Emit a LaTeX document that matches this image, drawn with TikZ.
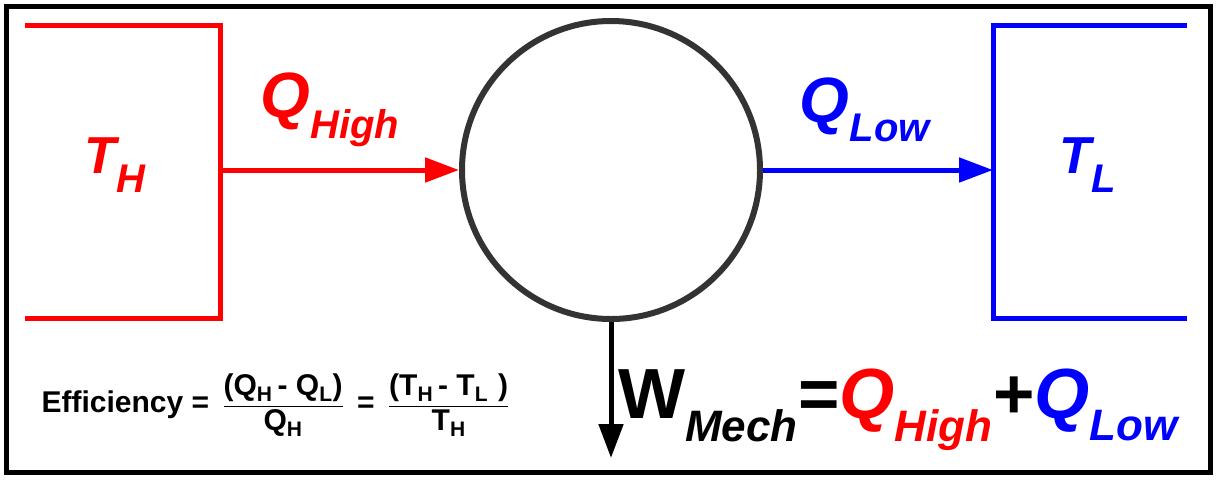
\documentclass[tikz,border=0pt]{standalone}
\usepackage{amsmath}
\usepackage{fontspec}
\setmainfont{Liberation Sans}
\usetikzlibrary{arrows.meta}
\definecolor{hotred}{RGB}{255,0,0}
\definecolor{coldblue}{RGB}{0,0,255}
\tikzset{
  flow/.style={line width=5pt,-{Triangle[length=34pt,width=24pt]}},
  big/.style={font=\bfseries\itshape\fontsize{64}{68}\selectfont},
}
\newcommand{\sub}[1]{\textsubscript{\fontsize{40}{42}\selectfont #1}}
\newcommand{\wsub}[1]{\textsubscript{\fontsize{44}{46}\selectfont #1}}
\begin{document}
\begin{tikzpicture}[x=1pt,y=-1pt]
\useasboundingbox (0,0) rectangle (1217,480);
\draw[line width=5pt] (6,6) rectangle (1210,472);
\draw[hotred,line width=5pt] (25,25) -- (220,25) -- (220,318) -- (25,318);
\draw[coldblue,line width=5pt] (1187,25) -- (993,25) -- (993,318) -- (1187,318);
\node[draw=black!80,line width=6pt,circle,minimum size=298pt] (eng) at (611,170) {};
\coordinate (hot) at (220,170);
\coordinate (cold) at (993,170);
\coordinate (out) at (611,458);
\draw[flow,hotred] (hot) -- (eng.west);
\draw[flow,coldblue] (eng.east) -- (cold);
\draw[flow,black] (eng.south) -- (out);
\node[hotred,font=\bfseries\itshape\fontsize{52}{56}\selectfont] (th) at (115,165) {T\sub{H}};
\node[coldblue,font=\bfseries\itshape\fontsize{52}{56}\selectfont] (tl) at (1088,165) {T\sub{L}};
\node[hotred,big] (qh) at (330,110) {Q\sub{High}};
\node[coldblue,big] (ql) at (865,110) {Q\sub{Low}};
\node[font=\bfseries\itshape\fontsize{71}{74}\selectfont,anchor=west,inner sep=0pt] (w) at (618,410) {\upshape W\wsub{\itshape Mech}%
=\itshape\textcolor{hotred}{Q\wsub{High}}\upshape +\itshape\textcolor{coldblue}{Q\wsub{Low}}};
\node[font=\bfseries\fontsize{30}{32}\selectfont,anchor=west] (eff) at (38,405)
  {Efficiency = \,$\dfrac{\text{(Q\textsubscript{H}\,- Q\textsubscript{L})}}{\text{Q\textsubscript{H}}}$\, = \,$\dfrac{\text{(T\textsubscript{H}\,- T\textsubscript{L}\,\,)}}{\text{T\textsubscript{H}}}$};
\end{tikzpicture}
\end{document}
